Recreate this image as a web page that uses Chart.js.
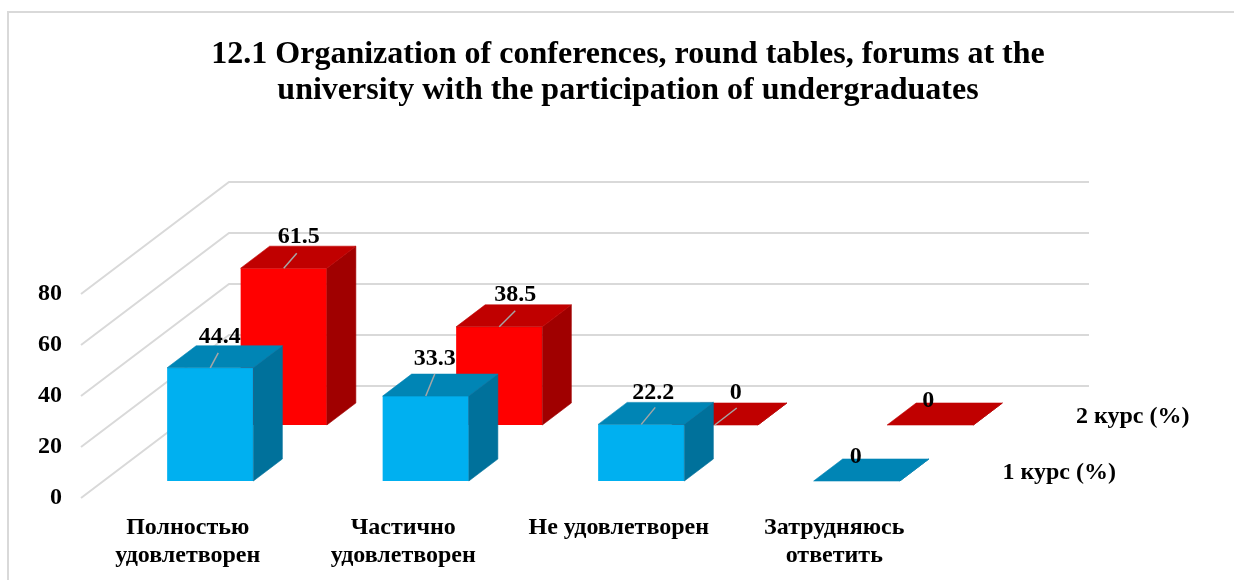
<!DOCTYPE html>
<html>
<head>
<meta charset="utf-8">
<script src="https://cdn.jsdelivr.net/npm/chart.js@4"></script>
<style>
html,body{margin:0;padding:0;background:#fff;width:1234px;height:580px;overflow:hidden}
#frame{position:absolute;left:7px;top:11px;width:1240px;height:580px;border-left:2px solid #d9d9d9;border-top:2px solid #d9d9d9;background:#fff}
canvas{display:block}
</style>
</head>
<body>
<div id="frame"><canvas id="c" width="1238" height="567"></canvas></div>
<script>
const categories = [["Полностью","удовлетворен"],["Частично","удовлетворен"],["Не удовлетворен"],["Затрудняюсь","ответить"]];
const course1 = [44.4, 33.3, 22.2, 0];
const course2 = [61.5, 38.5, 0, 0];
const seriesNames = ["1 курс (%)", "2 курс (%)"];
const titleLines = ["12.1 Organization of conferences, round tables, forums at the","university with the participation of undergraduates"];

// 3D projection settings
const WALL = {dx:148, dy:-112, rightTrim:3};
const BOX = {dx:29, dy:-22};
const PLANES = [
  {dx:20.5, dy:-17, front:"#00B0F0", top:"#0085B5", side:"#00719B"},
  {dx:94, dy:-73, front:"#FF0000", top:"#C00000", side:"#A00000"}
];
// label placement relative to bar front-top centre: [text dx, text dy, leader dx, leader dy]
const LABEL_OFFSETS = [
  [[9.5,-31,8,-15],[9,-37,9,-22],[12,-32,14,-17],[-1,-24]],
  [[15,-31,13,-15],[16,-32,16,-16],[21,-32,22,-17],[-2,-24]]
];
const FONT = '"Liberation Serif","Times New Roman",serif';

const box3d = {
  id:'box3d',
  beforeDatasetsDraw(chart){
    const {ctx, scales:{y}, chartArea:a} = chart;
    ctx.save();
    ctx.strokeStyle='#d9d9d9'; ctx.lineWidth=2;
    y.ticks.forEach(t=>{
      const py=y.getPixelForValue(t.value);
      ctx.beginPath();
      ctx.moveTo(a.left-1,py);
      ctx.lineTo(a.left-1+WALL.dx,py+WALL.dy);
      ctx.lineTo(a.right+WALL.dx-WALL.rightTrim,py+WALL.dy);
      ctx.stroke();
    });
    ctx.restore();
  },
  beforeDatasetDraw(chart,args){
    const p=PLANES[args.index];
    chart.ctx.save();
    chart.ctx.translate(p.dx,p.dy);
  },
  afterDatasetDraw(chart,args){
    const {ctx}=chart, p=PLANES[args.index];
    ctx.lineWidth=0.6;
    args.meta.data.forEach(el=>{
      const {x,y,base,width}=el.getProps(['x','y','base','width'],true);
      const l=x-width/2, r=x+width/2;
      ctx.fillStyle=p.side; ctx.strokeStyle=p.side;
      ctx.beginPath();
      ctx.moveTo(r,base);ctx.lineTo(r+BOX.dx,base+BOX.dy);ctx.lineTo(r+BOX.dx,y+BOX.dy);ctx.lineTo(r,y);
      ctx.closePath();ctx.fill();ctx.stroke();
      ctx.fillStyle=p.top; ctx.strokeStyle=p.top;
      ctx.beginPath();
      ctx.moveTo(l,y);ctx.lineTo(l+BOX.dx,y+BOX.dy);ctx.lineTo(r+BOX.dx,y+BOX.dy);ctx.lineTo(r,y);
      ctx.closePath();ctx.fill();ctx.stroke();
    });
    ctx.restore();
  },
  afterDatasetsDraw(chart){
    const {ctx,chartArea:a}=chart;
    ctx.save();
    ctx.textAlign='center';ctx.textBaseline='middle';
    [0,1].forEach(ds=>{
      const p=PLANES[ds], meta=chart.getDatasetMeta(ds);
      meta.data.forEach((el,i)=>{
        const o=LABEL_OFFSETS[ds][i];
        const bx=el.x+p.dx, by=el.y+p.dy;
        if(o.length>2){
          ctx.strokeStyle='#a6a6a6';ctx.lineWidth=1.5;
          ctx.beginPath();ctx.moveTo(bx,by);ctx.lineTo(bx+o[2],by+o[3]);ctx.stroke();
        }
        ctx.fillStyle='#000';
        ctx.font='bold 24px '+FONT;
        ctx.fillText(String(chart.data.datasets[ds].data[i]),bx+o[0],by+o[1]);
      });
      ctx.textAlign='left';
      ctx.font='bold 24px '+FONT;
      ctx.fillStyle='#000';
      ctx.fillText(chart.data.datasets[ds].label,a.right+p.dx+38,a.bottom+p.dy-8);
      ctx.textAlign='center';
    });
    ctx.restore();
  }
};

new Chart(document.getElementById('c'),{
  type:'bar',
  data:{
    labels:categories,
    datasets:[
      {label:seriesNames[0],data:course1,backgroundColor:PLANES[0].front,clip:false,grouped:false},
      {label:seriesNames[1],data:course2,backgroundColor:PLANES[1].front,clip:false,grouped:false}
    ]
  },
  options:{
    responsive:false,
    animation:false,
    datasets:{bar:{barPercentage:0.4,categoryPercentage:1}},
    plugins:{
      legend:{display:false},
      tooltip:{enabled:false},
      title:{
        display:true,text:titleLines,color:'#000',
        font:{family:FONT,size:32,weight:'bold',lineHeight:1.125},
        padding:{top:24,bottom:185}
      }
    },
    scales:{
      x:{
        grid:{display:false},border:{display:false},
        afterFit(s){s.height=82;},
        ticks:{color:'#000',font:{family:FONT,size:24,weight:'bold',lineHeight:1.17},padding:8,labelOffset:-2,maxRotation:0,minRotation:0,autoSkip:false}
      },
      y:{
        min:0,max:80,
        grid:{display:false},border:{display:false},
        afterFit(s){s.width=73;},
        ticks:{stepSize:20,color:'#000',font:{family:FONT,size:24,weight:'bold'},padding:12}
      },
      depthSpace:{
        type:'linear',position:'right',
        grid:{display:false},border:{display:false},
        ticks:{display:false},
        afterFit(s){s.width=303;}
      }
    }
  },
  plugins:[box3d]
});
</script>
</body>
</html>
